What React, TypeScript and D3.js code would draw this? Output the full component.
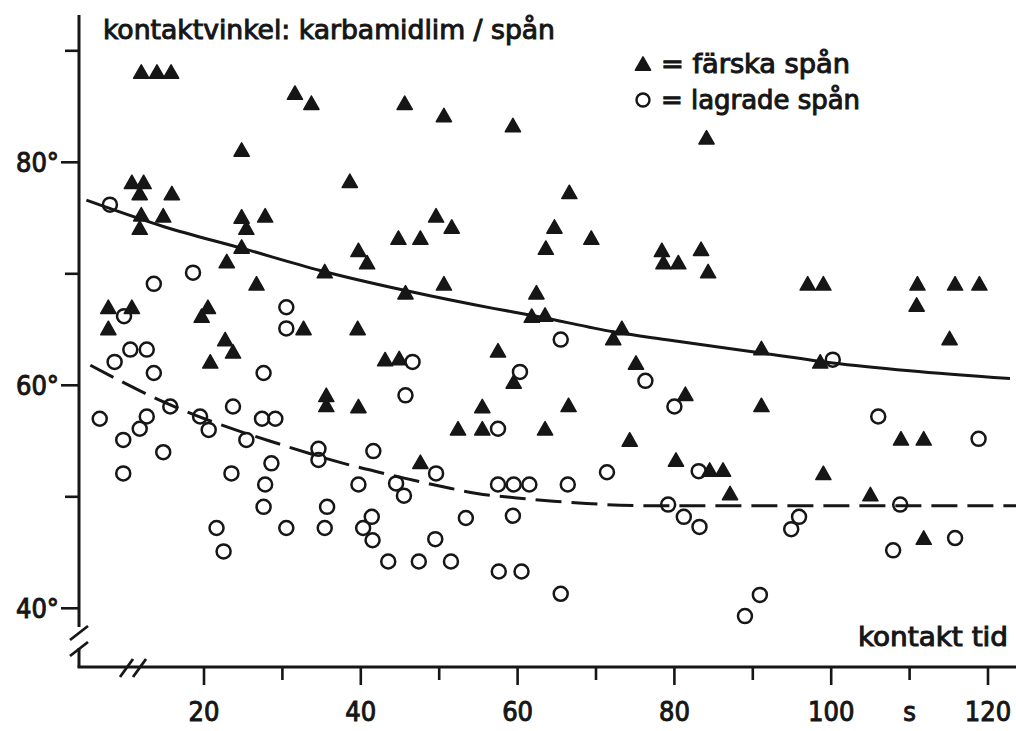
import React from "react";
import * as d3 from "d3";

// ---- data ----
const freshX = [12.0,14.0,15.8,31.6,33.7,45.6,50.6,59.4,84.1,24.8,10.8,12.3,11.8,15.9,38.6,66.6,12.0,14.8,11.8,24.8,27.8,25.4,49.6,51.6,64.7,44.8,47.6,69.4,24.8,63.6,39.7,40.8,22.9,78.4,78.6,80.5,83.4,84.3,35.4,26.7,50.6,45.7,62.4,97.0,99.0,111.0,115.8,118.9,110.9,7.8,10.8,7.8,20.5,19.7,32.7,22.7,23.7,20.8,61.8,63.5,73.3,72.2,39.6,43.1,44.9,57.5,75.1,115.1,91.1,98.6,35.6,35.6,59.5,39.7,55.5,66.5,52.4,55.5,63.5,74.3,47.6,81.4,91.1,108.9,111.8,80.2,84.5,86.2,99.0,87.1,105.0,111.8];
const freshY = [88.1,88.1,88.1,86.2,85.3,85.3,84.2,83.3,82.2,81.1,78.2,78.2,77.2,77.2,78.3,77.3,75.3,75.2,74.1,75.1,75.2,74.1,75.2,74.2,74.2,73.2,73.2,73.2,72.4,72.3,72.1,71.0,71.1,72.1,71.0,71.0,72.2,70.2,70.2,69.1,69.1,68.3,68.3,69.1,69.1,69.1,69.1,69.1,67.2,67.0,67.0,65.1,67.0,66.2,65.1,64.1,63.0,62.1,66.2,66.3,65.1,64.2,65.1,62.3,62.4,63.1,62.0,64.2,63.3,62.1,59.1,58.2,60.3,58.1,58.1,58.2,56.1,56.1,56.1,55.1,53.1,59.2,58.2,55.2,55.2,53.3,52.4,52.4,52.1,50.3,50.2,46.3];

const storedX = [8.0,18.6,13.6,9.8,30.5,30.5,10.6,12.7,8.6,13.6,27.6,6.7,15.7,12.7,11.8,19.5,20.6,23.7,27.4,29.1,9.7,25.4,34.6,34.6,14.8,9.7,23.5,28.6,27.8,27.6,35.7,21.6,22.5,30.5,35.4,46.6,65.5,60.3,76.3,45.7,57.5,41.6,49.6,39.7,44.5,45.5,57.5,59.5,61.5,66.4,71.4,41.4,40.3,41.5,53.4,59.4,49.5,43.5,47.4,51.5,57.6,60.5,65.5,100.2,80.0,106.0,118.8,83.1,79.2,108.8,81.2,83.2,95.9,94.9,115.8,107.9,90.9,89.0];
const storedY = [76.2,70.1,69.1,66.2,67.0,65.1,63.2,63.2,62.1,61.1,61.1,57.0,58.1,57.2,56.1,57.2,56.0,58.1,57.0,57.0,55.1,55.1,54.3,53.3,54.0,52.1,52.1,53.0,51.1,49.1,49.1,47.2,45.1,47.2,47.2,62.1,64.1,61.2,60.4,59.1,56.1,54.1,52.1,51.1,51.2,50.1,51.1,51.1,51.1,51.1,52.2,48.2,47.2,46.1,48.1,48.3,46.2,44.2,44.2,44.2,43.3,43.3,41.3,62.3,58.1,57.2,55.2,52.3,49.3,49.3,48.2,47.3,48.2,47.1,46.3,45.2,41.2,39.3];

const solidCurveX = [5.0,15.0,24.8,34.8,45.7,56.9,62.4,72.2,78.8,91.1,100.2,110.0,122.8];
const solidCurveY = [76.6,74.2,72.3,70.3,68.5,66.9,66.2,64.8,64.1,62.9,62.0,61.3,60.6];
const dashedCurveX = [5.5,15.2,21.2,29.3,37.8,45.4,50.5,54.8,59.9,64.6,68.8,73.1,77.3,123.6];
const dashedCurveY = [61.8,58.4,56.7,54.8,53.0,51.7,50.9,50.3,49.9,49.6,49.4,49.25,49.2,49.2];

const xTicks = [20,30,40,50,60,70,80,90,100,110,120];
const xTickLabels = ["20","","40","","60","","80","","100","s","120"];
const yTicks = [40,50,60,70,80,90];
const yTickLabels = ["40°","","60°","","80°",""];

const title = "kontaktvinkel: karbamidlim / spån";
const legendFresh = "= färska spån";
const legendStored = "= lagrade spån";
const xTitle = "kontakt tid";

const INK = "#161616";
const FONT = "'DejaVu Sans Condensed', 'DejaVu Sans', sans-serif";

export default function App() {
  const W = 1016, H = 731;
  const x = d3.scaleLinear().domain([0, 120]).range([47.2, 988]);
  const y = d3.scaleLinear().domain([40, 90]).range([608.3, 50.8]);
  const axisX = 79, axisY = 667;

  const mk = (xs: number[], ys: number[]) =>
    d3.line<[number, number]>()
      .x((d) => x(d[0])).y((d) => y(d[1])).curve(d3.curveMonotoneX)(
        xs.map((v, i) => [v, ys[i]] as [number, number])
      ) || "";
  const solidPath = mk(solidCurveX, solidCurveY);
  const dashedPath = mk(dashedCurveX, dashedCurveY);

  const tri = "M0,-7.2 L7.6,6.2 L-7.6,6.2 Z";
  const TS = 0.95;

  return (
    <svg width={W} height={H} style={{ position: "absolute", left: 0, top: 0, background: "#fff" }}
      fontFamily={FONT}>
      <rect x={0} y={0} width={W} height={H} fill="#fff" />
      {/* title */}
      <text x={103} y={39} fontSize={27} fill={INK} stroke={INK} strokeWidth={TS}
        textLength={452} lengthAdjust="spacingAndGlyphs">{title}</text>

      {/* legend */}
      <path d={tri} transform="translate(643,64)" fill={INK} stroke={INK} strokeWidth={1.5} strokeLinejoin="round" />
      <text x={661} y={73} fontSize={26} fill={INK} stroke={INK} strokeWidth={TS}
        textLength={189} lengthAdjust="spacingAndGlyphs">{legendFresh}</text>
      <circle cx={643} cy={100} r={6.5} fill="none" stroke={INK} strokeWidth={2.4} />
      <text x={661} y={109} fontSize={26} fill={INK} stroke={INK} strokeWidth={TS}
        textLength={199} lengthAdjust="spacingAndGlyphs">{legendStored}</text>

      {/* y axis */}
      <line x1={axisX} y1={15} x2={axisX} y2={627} stroke={INK} strokeWidth={3} />
      <line x1={axisX} y1={648} x2={axisX} y2={axisY} stroke={INK} strokeWidth={3} />
      <line x1={70} y1={640} x2={88} y2={626} stroke={INK} strokeWidth={2.8} />
      <line x1={70} y1={656} x2={88} y2={642} stroke={INK} strokeWidth={2.8} />
      {yTicks.map((t, i) => (
        <g key={"yt" + t}>
          <line x1={axisX - (yTickLabels[i] ? 18 : 14)} x2={axisX} y1={y(t)} y2={y(t)} stroke={INK} strokeWidth={2.6} />
          {yTickLabels[i] && (
            <text x={59} y={y(t) + 10} textAnchor="end" fontSize={27} fill={INK} stroke={INK} strokeWidth={TS}>
              {yTickLabels[i]}
            </text>
          )}
        </g>
      ))}

      {/* x axis */}
      <line x1={axisX - 1.5} y1={axisY} x2={1016} y2={axisY} stroke={INK} strokeWidth={3} />
      <line x1={120} y1={677} x2={133} y2={659} stroke={INK} strokeWidth={2.8} />
      <line x1={133} y1={677} x2={146} y2={659} stroke={INK} strokeWidth={2.8} />
      {xTicks.map((t, i) => (
        <g key={"xt" + t}>
          <line x1={x(t)} x2={x(t)} y1={axisY} y2={axisY + (i % 2 === 0 ? 18 : 13)} stroke={INK} strokeWidth={2.6} />
          {xTickLabels[i] && (
            <text x={x(t)} y={721} textAnchor="middle" fontSize={27} fill={INK} stroke={INK} strokeWidth={TS}>
              {xTickLabels[i]}
            </text>
          )}
        </g>
      ))}
      <text x={1008} y={646} textAnchor="end" fontSize={26} fill={INK} stroke={INK} strokeWidth={TS}
        textLength={150} lengthAdjust="spacingAndGlyphs">{xTitle}</text>

      {/* curves */}
      <path d={solidPath} fill="none" stroke={INK} strokeWidth={3} />
      <path d={dashedPath} fill="none" stroke={INK} strokeWidth={3} strokeDasharray="26 10" />

      {/* points */}
      {freshX.map((v, i) => (
        <path key={"f" + i} d={tri} transform={`translate(${x(v)},${y(freshY[i])})`}
          fill={INK} stroke={INK} strokeWidth={1.5} strokeLinejoin="round" />
      ))}
      {storedX.map((v, i) => (
        <circle key={"s" + i} cx={x(v)} cy={y(storedY[i])} r={7} fill="none" stroke={INK} strokeWidth={2.5} />
      ))}
    </svg>
  );
}
